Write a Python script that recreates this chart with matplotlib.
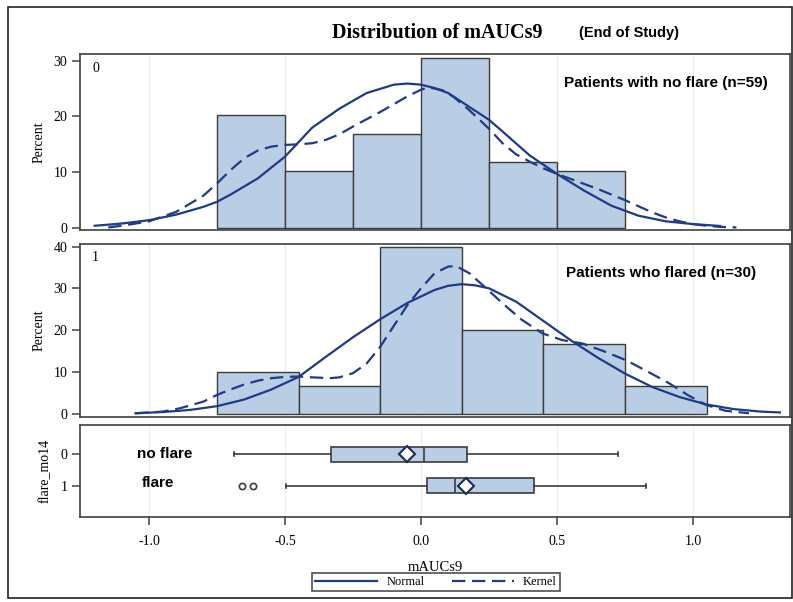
import matplotlib.pyplot as plt
from matplotlib.patches import Rectangle

# --- data ---
# histogram: no flare (n=59), bins of 0.25
bins_noflare = [-0.75, -0.5, -0.25, 0.0, 0.25, 0.5]
pct_noflare = [20.3, 10.2, 16.9, 30.5, 11.9, 10.2]
# histogram: flared (n=30), bins of 0.3
bins_flare = [-0.75, -0.45, -0.15, 0.15, 0.45, 0.75]
pct_flare = [10.0, 6.67, 40.0, 20.0, 16.67, 6.67]

# fitted curves (percent)
norm0_x = [-1.2, -1.1, -1.0, -0.9, -0.8, -0.75, -0.7, -0.6, -0.5, -0.4, -0.3, -0.2, -0.1,
           -0.05, 0.0, 0.05, 0.1, 0.2, 0.25, 0.3, 0.4, 0.5, 0.6, 0.7, 0.8, 0.9, 1.0, 1.1]
norm0_y = [0.4, 0.8, 1.4, 2.4, 3.8, 4.7, 6.0, 8.9, 12.8, 18.0, 21.4, 24.2, 25.7,
           25.9, 25.7, 25.1, 24.2, 21.0, 19.4, 17.3, 13.0, 9.7, 6.7, 4.0, 2.2, 1.2, 0.7, 0.36]
kern0_x = [-1.15, -1.1, -1.0, -0.9, -0.8, -0.75, -0.7, -0.65, -0.6, -0.55, -0.5, -0.45,
           -0.4, -0.35, -0.3, -0.25, -0.2, -0.15, -0.1, -0.05, 0.0, 0.03, 0.08, 0.12,
           0.176, 0.25, 0.3, 0.35, 0.4, 0.45, 0.5, 0.55, 0.6, 0.65, 0.7, 0.75, 0.8,
           0.85, 0.9, 0.95, 1.0, 1.05, 1.1, 1.16]
kern0_y = [0.1, 0.4, 1.2, 2.9, 5.8, 8.0, 10.4, 12.5, 13.9, 14.6, 14.9, 15.0,
           15.2, 15.8, 16.8, 18.2, 19.5, 20.8, 22.2, 23.6, 24.8, 25.2, 24.7, 23.5,
           21.2, 17.8, 15.2, 13.2, 11.9, 10.7, 9.7, 8.8, 7.9, 7.0, 6.0, 5.0, 3.9,
           2.8, 1.9, 1.2, 0.7, 0.4, 0.2, 0.1]

norm1_x = [-1.05, -0.95, -0.85, -0.75, -0.65, -0.55, -0.45, -0.35, -0.25, -0.15, -0.05,
           0.05, 0.1, 0.15, 0.2, 0.25, 0.35, 0.45, 0.55, 0.65, 0.75, 0.85, 0.95, 1.05,
           1.15, 1.25, 1.32]
norm1_y = [0.1, 0.4, 0.9, 1.8, 3.4, 5.8, 8.8, 13.6, 18.3, 22.6, 26.5,
           29.6, 30.6, 31.0, 30.7, 30.0, 26.8, 22.2, 17.6, 13.4, 9.6, 6.4, 4.0, 2.2,
           1.1, 0.5, 0.3]
kern1_x = [-1.05, -0.95, -0.886, -0.8, -0.75, -0.7, -0.65, -0.6, -0.55, -0.5, -0.45,
           -0.4, -0.335, -0.3, -0.25, -0.2, -0.15, -0.1, -0.05, 0.0, 0.05, 0.1, 0.13,
           0.178, 0.24, 0.3, 0.37, 0.447, 0.52, 0.594, 0.67, 0.754, 0.83, 0.912, 0.98,
           1.048, 1.12, 1.206]
kern1_y = [0.1, 0.5, 1.3, 2.9, 4.5, 5.8, 7.0, 7.9, 8.5, 8.8, 8.9,
           8.7, 8.5, 8.7, 9.7, 12.0, 16.0, 21.0, 26.0, 30.0, 33.6, 35.2, 35.3,
           33.6, 30.0, 26.4, 22.5, 19.2, 17.6, 16.8, 15.0, 12.8, 10.2, 7.3, 4.5,
           2.1, 0.7, 0.1]

# box plot statistics by flare_mo14
box_stats = [
    dict(label='0', whislo=-0.686, q1=-0.331, med=0.011, q3=0.168, whishi=0.723,
         mean=-0.050, fliers=[]),
    dict(label='1', whislo=-0.498, q1=0.023, med=0.125, q3=0.417, whishi=0.826,
         mean=0.164, fliers=[-0.657, -0.616]),
]

navy = '#1f3a86'
fill = '#b9cde5'
edge = '#3c3c3c'
serif = 'Liberation Serif'
sans = 'Liberation Sans'

fig = plt.figure(figsize=(7.93, 6.02), dpi=100)
fig.patch.set_facecolor('white')

L, W = 80 / 793, 710 / 793
ax1 = fig.add_axes([L, 1 - 230 / 602, W, 176 / 602])
ax2 = fig.add_axes([L, 1 - 417 / 602, W, 173 / 602], sharex=ax1)
ax3 = fig.add_axes([L, 1 - 517 / 602, W, 92 / 602], sharex=ax1)

xt = [-1.0, -0.5, 0.0, 0.5, 1.0]

def hist_panel(ax, edges, pct, width, nx, ny, kx, ky, yticks, ylim, tag, label, lx):
    ax.bar(edges, pct, width=width, align='edge', color=fill, edgecolor=edge, lw=1, zorder=2)
    ax.plot(nx, ny, color=navy, lw=1.6, zorder=3, solid_joinstyle='round')
    ax.plot(kx, ky, color=navy, lw=1.6, dashes=(6, 3), zorder=3)
    ax.set_ylim(*ylim)
    ax.set_yticks(yticks)
    ax.set_ylabel('Percent', family=serif, fontsize=10, labelpad=6)
    ax.text(0.017, 0.9, tag, transform=ax.transAxes, family=serif, fontsize=10)
    ax.text(lx, 0.835, label, transform=ax.transAxes, ha='center', va='center',
            fontsize=11, fontweight='bold', family=sans)
    ax.tick_params(axis='x', bottom=False, labelbottom=False)

hist_panel(ax1, bins_noflare, pct_noflare, 0.25, norm0_x, norm0_y, kern0_x, kern0_y,
           [0, 10, 20, 30], (-0.36, 31.2), '0', 'Patients with no flare (n=59)', 0.825)
hist_panel(ax2, bins_flare, pct_flare, 0.3, norm1_x, norm1_y, kern1_x, kern1_y,
           [0, 10, 20, 30, 40], (-0.79, 40.6), '1', 'Patients who flared (n=30)', 0.818)

ax3.bxp(box_stats, positions=[0, 1], widths=0.47, orientation='horizontal',
        showmeans=True, patch_artist=True, capwidths=0.12,
        boxprops=dict(facecolor=fill, edgecolor=edge, lw=1.2),
        medianprops=dict(color=edge, lw=1.2),
        whiskerprops=dict(color=edge, lw=1.2),
        capprops=dict(color=edge, lw=1.2),
        meanprops=dict(marker='D', markerfacecolor='white', markeredgecolor='#1a2a55',
                       markeredgewidth=1.5, markersize=8),
        flierprops=dict(marker='o', markerfacecolor='white', markeredgecolor=edge,
                        markersize=4.5, markeredgewidth=1.2))
ax3.set_ylim(1.99, -0.92)
ax3.set_yticks([0, 1])
ax3.set_yticklabels(['0', '1'])
ax3.set_ylabel('flare_mo14', family=serif, fontsize=10, labelpad=6)
ax3.text(-1.044, 0, 'no flare', ha='left', va='center', fontsize=11, fontweight='bold',
         family=sans)
ax3.text(-1.026, 0.9, 'flare', ha='left', va='center', fontsize=11, fontweight='bold',
         family=sans)
ax3.set_xlim(-1.254, 1.357)
ax3.set_xticks(xt)
ax3.set_xticklabels(['-1.0', '-0.5', '0.0', '0.5', '1.0'])
ax3.set_xlabel('mAUCs9', family=serif, fontsize=10.5, labelpad=9)

for ax in (ax1, ax2, ax3):
    ax.set_xticks(xt)
    ax.grid(axis='x', color='#ececec', lw=0.8, zorder=0)
    ax.set_axisbelow(True)
    for s in ax.spines.values():
        s.set_color('#404040')
        s.set_linewidth(1.2)
    ax.tick_params(axis='both', direction='out', length=6, width=1.1, color='#404040',
                   labelsize=10, pad=3)
    for t in ax.get_yticklabels() + ax.get_xticklabels():
        t.set_family(serif)
ax3.tick_params(axis='x', pad=7)

# title
fig.text(437 / 793, 1 - 33 / 602, 'Distribution of mAUCs9', ha='center', va='center',
         family=serif, fontweight='bold', fontsize=14.5)
fig.text(629 / 793, 1 - 33 / 602, '(End of Study)', ha='center', va='center',
         family=sans, fontweight='bold', fontsize=10.5)

# legend
h_norm, = ax3.plot([], [], color=navy, lw=1.6)
h_kern, = ax3.plot([], [], color=navy, lw=1.6, dashes=(6, 3))
leg = fig.legend([h_norm, h_kern], ['Normal', 'Kernel'], ncol=2, loc='center',
                 bbox_to_anchor=(436 / 793, 1 - 582 / 602), frameon=True, fancybox=False,
                 edgecolor='#222222', prop=dict(family=serif, size=9),
                 handlelength=5, columnspacing=2.2, borderpad=0.25, handletextpad=0.7,
                 borderaxespad=0)
leg.get_frame().set_linewidth(1.2)

# outer frame
fig.add_artist(Rectangle((8 / 793, 4 / 602), 784 / 793, 591 / 602, transform=fig.transFigure,
                         fill=False, edgecolor='#222222', lw=1.2))

fig.savefig('out.png', dpi=100)
